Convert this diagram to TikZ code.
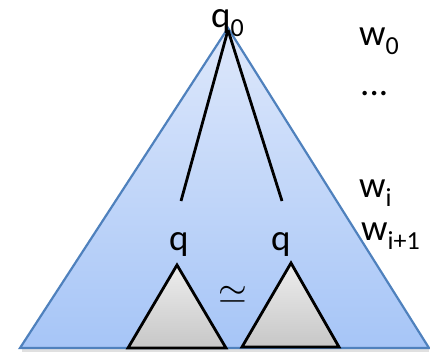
\documentclass[tikz,border=0pt]{standalone}
\usepackage{fontspec}
\setmainfont{Carlito}
\newcommand\mysub[1]{\raisebox{-9pt}{\fontsize{26}{30}\selectfont #1}}
\begin{document}
\begin{tikzpicture}[x=1pt,y=-1pt,
  lbl/.style={inner sep=0pt,anchor=base west,font=\fontsize{37}{42}\selectfont},
  subtree/.style={draw=black,line width=2.8pt,line join=miter,top color=white!93!black,bottom color=white!78!black},
  edge/.style={draw=black,line width=2.8pt}]
\definecolor{outl}{HTML}{4F81BD}
\useasboundingbox (0,0) rectangle (430,354);
% shadow
\fill[black,opacity=0.12] (22,349) rectangle (429,352);
% big triangle
\coordinate (apex) at (228,28);
\coordinate (bl) at (20,348);
\coordinate (br) at (429,348);
\path[top color={rgb,255:red,222;green,232;blue,251},bottom color={rgb,255:red,166;green,197;blue,247}] (apex) -- (bl) -- (br) -- cycle;
\draw[outl,line width=2.2pt,line join=miter] (apex) -- (bl) -- (br) -- cycle;
% branches
\coordinate (top) at (228,30);
\coordinate (le) at (181,201);
\coordinate (re) at (282,201);
\draw[edge] (top) -- (le);
\draw[edge] (top) -- (re);
% subtrees
\path[subtree] (177,265) coordinate (la) -- (128,348) -- (226,348) -- cycle;
\path[subtree] (291,263) coordinate (ra) -- (242,347) -- (339,347) -- cycle;
% labels
\node[lbl] (q0) at (211,27) {q\mysub{0}};
\node[lbl] (ql) at (169,250) {q};
\node[lbl] (qr) at (271,250) {q};
\node[inner sep=0pt] (sim) at (233,295) {\scalebox{3.7}{$\simeq$}};
\node[lbl] (w0) at (359,45) {w\mysub{0}};
\node[lbl] (dots) at (360,95) {...};
\node[lbl] (wi) at (359,197) {w\mysub{i}};
\node[lbl] (wi1) at (361,240) {w\mysub{i+1}};
\end{tikzpicture}
\end{document}
